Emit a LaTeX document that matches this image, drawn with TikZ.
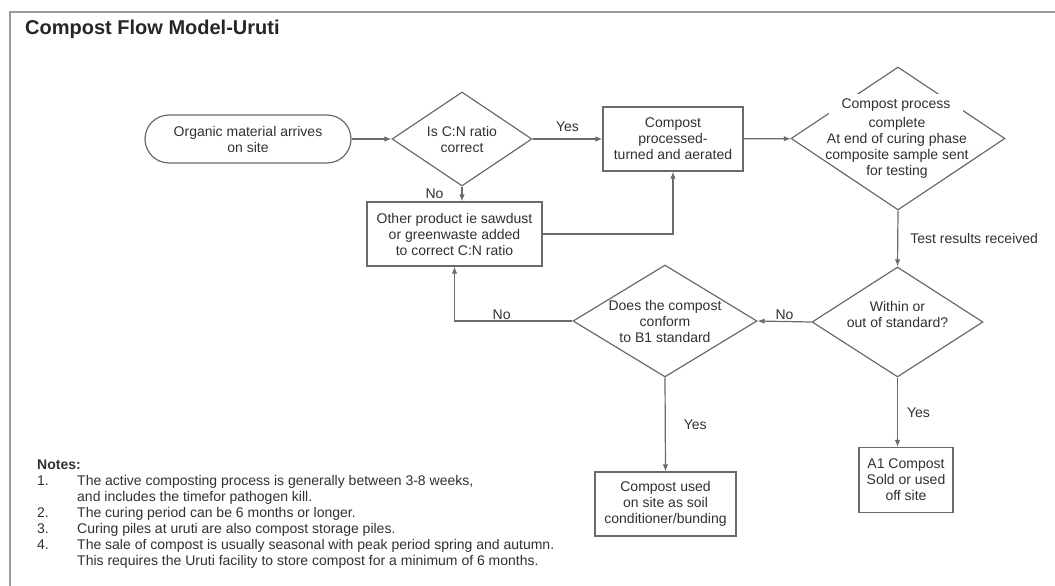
\documentclass[tikz,border=0pt]{standalone}
\usepackage{fontspec}
\setmainfont{Liberation Sans}
\usepackage{tikz}
\usetikzlibrary{arrows.meta}
\usetikzlibrary{positioning}
\usetikzlibrary{shapes.geometric}
\definecolor{linegray}{HTML}{6A6A6A}
\definecolor{textgray}{HTML}{303030}
\definecolor{framegray}{HTML}{9A9A9A}
\tikzstyle{box}=[rectangle, draw=linegray, line width=1.2pt, align=center, inner sep=0pt]
\tikzstyle{terminal}=[box, rounded corners=24pt]
\tikzstyle{decision}=[diamond, draw=linegray, line width=1.2pt, inner sep=0pt]
\tikzstyle{flow}=[->, draw=linegray, line width=1.2pt]
\tikzstyle{tag}=[text=textgray, inner sep=2pt]
\tikzset{>={Latex[length=7pt,width=5.5pt]}}
\newcommand{\flowfont}{\fontsize{14}{16}\selectfont}

\begin{document}
\begin{tikzpicture}[x=1pt, y=-1pt, font=\flowfont, text=textgray,
    every label/.append style={align=center, text=textgray}]
  \useasboundingbox (0, 0) rectangle (1055, 586);
  \draw [framegray, line width=1.5pt] (10, 586) -- (10, 12) -- (1055, 12);
  \draw node at (25, 34.5) [anchor=base west, inner sep=0pt, font=\fontsize{20}{24}\selectfont\bfseries, text=black!85] (title) {Compost Flow Model-Uruti};

  \draw node at (248, 139) [terminal, minimum width=206pt, minimum height=48pt] (arrive) {Organic material arrives\\on site};
  \draw node at (462, 139) [decision, minimum width=140pt, minimum height=94pt, label={center:{Is C:N ratio\\correct}}] (ratio) {};
  \draw node at (454.5, 234) [box, minimum width=175pt, minimum height=64pt] (other) {Other product ie sawdust\\or greenwaste added\\to correct C:N ratio};
  \draw node at (673, 139) [box, minimum width=140pt, minimum height=64pt] (turned) {Compost\\processed-\\turned and aerated};
  \draw node at (898, 138.5) [decision, minimum width=214pt, minimum height=143pt] (complete) {};
  \draw node at (896, 105) [fill=white, minimum width=134pt, minimum height=22pt, inner sep=0pt] (cphead) {Compost process};
  \draw node at (897, 147.5) [align=center, inner sep=0pt] (cpbody) {complete\\At end of curing phase\\composite sample sent\\for testing};
  \draw node at (897.5, 322) [decision, minimum width=171pt, minimum height=110pt, label={[yshift=8pt]center:{Within or\\out of standard?}}] (within) {};
  \draw node at (665, 321) [decision, minimum width=184pt, minimum height=112pt, label={center:{Does the compost\\conform\\to B1 standard}}] (conform) {};
  \draw node at (665.5, 504) [box, minimum width=141pt, minimum height=64pt] (onsite) {Compost used\\on site as soil\\conditioner/bunding};
  \draw node at (906, 480) [box, minimum width=94pt, minimum height=65pt] (offsite) {A1 Compost\\Sold or used\\off site};

  \draw [flow] (arrive) -- (ratio);
  \draw [flow] (ratio) -- node [tag, above=5pt] {Yes} (turned);
  \draw [flow] (ratio.south) -- node [tag, left=16pt] {No} (ratio.south |- other.north);
  \draw [flow] (other.east) -| (turned.south);
  \draw [flow] (turned) -- (complete);
  \draw [flow] (complete.south) -- node [tag, right=10pt] {Test results received} (within.north);
  \draw [flow] (within.west) -- node [tag, above=-1pt] {No} (conform.east);
  \draw [flow] (conform.west) -| node [tag, pos=0.3, above=-1pt] {No} (other.south);
  \draw [flow] (conform.south) -- node [tag, right=16pt] {Yes} (onsite.north);
  \draw [flow] (within.south) -- node [tag, right=7pt] {Yes} (within.south |- offsite.north);

  \draw node at (37, 458) [anchor=north west, inner sep=0pt, align=left] (notes) {%
    \begin{tabular}{@{}p{40pt}@{}l@{}}
      \multicolumn{2}{@{}l}{\textbf{Notes:}}\\
      1. & The active composting process is generally between 3-8 weeks,\\
         & and includes the timefor pathogen kill.\\
      2. & The curing period can be 6 months or longer.\\
      3. & Curing piles at uruti are also compost storage piles.\\
      4. & The sale of compost is usually seasonal with peak period spring and autumn.\\
         & This requires the Uruti facility to store compost for a minimum of 6 months.
    \end{tabular}};
\end{tikzpicture}
\end{document}
